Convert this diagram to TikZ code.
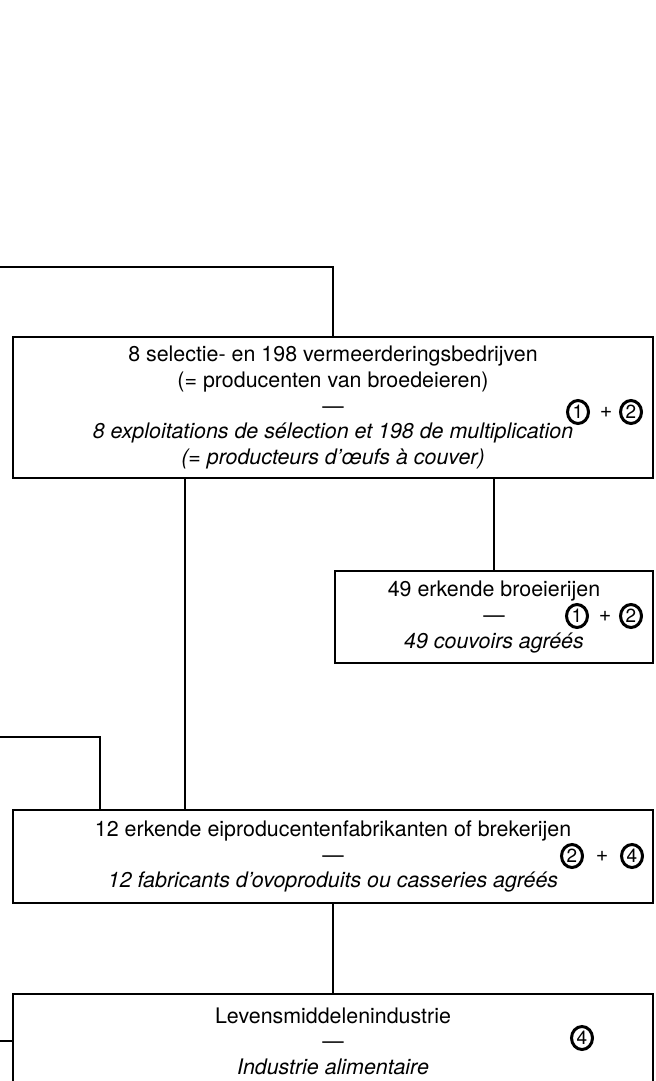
\documentclass[tikz,border=0pt]{standalone}
\usepackage{fontspec}
\setmainfont{TeX Gyre Heros}
\usetikzlibrary{positioning,shapes.geometric}

\begin{document}
\begin{tikzpicture}[x=0.5pt,y=-0.5pt,
  box/.style={draw,line width=1.1pt,align=center,inner sep=0pt,
    minimum width=320pt,font=\fontsize{10.7}{12.8}\selectfont},
  num/.style={draw,ellipse,line width=1.5pt,inner sep=0pt,minimum width=10.5pt,
    minimum height=11.5pt,font=\fontsize{9.5}{9.5}\selectfont},
  plus/.style={inner sep=0pt,font=\fontsize{10.7}{12.8}\selectfont},
  link/.style={line width=1.1pt}]
\useasboundingbox (0,0) rectangle (656,1081);
\clip (0,0) rectangle (656,1081);
% boxes
\node[box,minimum height=70.5pt] (b1) at (333,407.5)
  {8 selectie- en 198 vermeerderingsbedrijven\\
   (= producenten van broedeieren)\\
   —\\
   \textit{8 exploitations de sélection et 198 de multiplication}\\
   \textit{(= producteurs d’œufs à couver)}};
\node[box,minimum width=159pt,minimum height=46pt] (b2) at (494,617)
  {49 erkende broeierijen\\ —\\ \textit{49 couvoirs agréés}};
\node[box,minimum height=46.5pt] (b3) at (333,856.5)
  {12 erkende eiproducentenfabrikanten of brekerijen\\ —\\
   \textit{12 fabricants d’ovoproduits ou casseries agréés}};
\node[box,minimum height=47pt] (b4) at (333,1041)
  {Levensmiddelenindustrie\\ —\\ \textit{Industrie alimentaire}};
% circled numbers
\node[num] (b1n1) at (578,412) {1};
\node[plus] (b1p) at (606,412) {+};
\node[num] (b1n2) at (631,412) {2};
\node[num] (b2n1) at (577,616) {1};
\node[plus] (b2p) at (605,616) {+};
\node[num] (b2n2) at (631,616) {2};
\node[num] (b3n2) at (572,856) {2};
\node[plus] (b3p) at (602,856) {+};
\node[num] (b3n4) at (632,856) {4};
\node[num] (b4n4) at (582,1038) {4};
% incoming lines from the left
\coordinate (in1) at (0,267);
\coordinate (in2) at (0,737);
\coordinate (in3) at (0,1041);
% links
\draw[link] (in1) -| (b1);
\draw[link] (b1.south -| b2) -- (b2);
\draw[link] ([xshift=-74pt]b1.south) -- ([xshift=-74pt]b1.south |- b3.north);
\draw[link] (in2) -| ([xshift=44pt]b3.north west);
\draw[link] (b3) -- (b4);
\draw[link] (in3) -- (b4);
\end{tikzpicture}
\end{document}
